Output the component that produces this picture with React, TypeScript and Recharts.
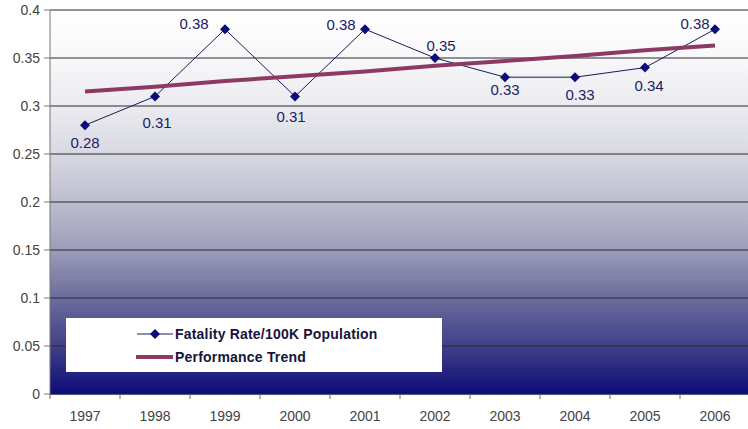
import { LineChart, Line, XAxis, YAxis, CartesianGrid, Legend, LabelList } from "recharts";

const years = ["1997", "1998", "1999", "2000", "2001", "2002", "2003", "2004", "2005", "2006"];
const fatalityRate = [0.28, 0.31, 0.38, 0.31, 0.38, 0.35, 0.33, 0.33, 0.34, 0.38];
const performanceTrend = [0.315, 0.32, 0.326, 0.331, 0.336, 0.342, 0.347, 0.352, 0.358, 0.363];
const yTicks = [0, 0.05, 0.1, 0.15, 0.2, 0.25, 0.3, 0.35, 0.4];

const data = years.map((year, i) => ({
  year,
  rate: fatalityRate[i],
  trend: performanceTrend[i],
}));

// where each value label sits, relative to its marker
const labelOffsets = [
  [0, 17], [2, 26], [-31, -6], [-4, 20], [-24, -5],
  [6, -13], [0, 12], [5, 17], [4, 18], [-20, -6],
];

const NAVY = "#0b0b7a";
const TREND = "#8c3a63";
const FONT = "Arial, 'Liberation Sans', sans-serif";

function Diamond(props: any) {
  const { cx, cy, index } = props;
  if (cx == null || cy == null) return null;
  const r = 5;
  return (
    <path
      key={`dot-${index}`}
      d={`M${cx},${cy - r}L${cx + r},${cy}L${cx},${cy + r}L${cx - r},${cy}Z`}
      fill={NAVY}
    />
  );
}

function ValueLabel(props: any) {
  const { x, y, value, index } = props;
  const [dx, dy] = labelOffsets[index] ?? [0, 15];
  return (
    <text
      x={x + dx}
      y={y + dy}
      textAnchor="middle"
      dominantBaseline="central"
      fill="#1c1c66"
      fontSize={15}
      fontFamily={FONT}
    >
      {Number(value).toFixed(2)}
    </text>
  );
}

function YearTick(props: any) {
  const { x, y, payload, index, width, visibleTicksCount } = props;
  const half = width / visibleTicksCount / 2;
  return (
    <g>
      <line x1={x - half} x2={x - half} y1={y} y2={y + 5} stroke="#666" />
      {index === visibleTicksCount - 1 && (
        <line x1={x + half} x2={x + half} y1={y} y2={y + 5} stroke="#666" />
      )}
      <text x={x} y={y + 27} textAnchor="middle" fill="#444" fontSize={14} fontFamily={FONT}>
        {payload.value}
      </text>
    </g>
  );
}

function LegendBox(props: any) {
  const items = props.payload ?? [];
  return (
    <div style={{ width: 376, height: 54, background: "#fff", position: "relative" }}>
      {items.map((item: any, i: number) => {
        const isTrend = item.dataKey === "trend";
        return (
          <div
            key={item.value}
            style={{ position: "absolute", left: 70, top: 16 + i * 23 - 9, height: 18, display: "flex", alignItems: "center" }}
          >
            <svg width={37} height={18}>
              {isTrend ? (
                <line x1={0} x2={37} y1={9} y2={9} stroke={TREND} strokeWidth={4} />
              ) : (
                <>
                  <line x1={1} x2={37} y1={9} y2={9} stroke="#1a1a5a" strokeWidth={1} />
                  <path d="M19,4L24,9L19,14L14,9Z" fill={NAVY} />
                </>
              )}
            </svg>
            <span
              style={{
                marginLeft: 2,
                fontFamily: FONT,
                fontWeight: "bold",
                fontSize: 14,
                letterSpacing: 0.2,
                color: "#15153a",
                whiteSpace: "nowrap",
              }}
            >
              {item.value}
            </span>
          </div>
        );
      })}
    </div>
  );
}

export default function App() {
  return (
    <div style={{ position: "absolute", left: 0, top: 0, width: 748, height: 429, overflow: "hidden", background: "#fff" }}>
      <svg width={0} height={0} style={{ position: "absolute" }}>
        <defs>
          <linearGradient id="plotBg" x1="0" y1="0" x2="0" y2="1">
            <stop offset="0" stopColor="#ffffff" />
            <stop offset="0.125" stopColor="#f8f8fa" />
            <stop offset="0.25" stopColor="#ebebf0" />
            <stop offset="0.375" stopColor="#d8d8e2" />
            <stop offset="0.5" stopColor="#bdbdcf" />
            <stop offset="0.625" stopColor="#9c9cba" />
            <stop offset="0.75" stopColor="#6c6c9c" />
            <stop offset="0.875" stopColor="#404088" />
            <stop offset="1" stopColor="#0c0c78" />
          </linearGradient>
        </defs>
      </svg>
      <LineChart width={750} height={429} data={data} margin={{ top: 10, right: 0, left: 0, bottom: 0 }}>
        <CartesianGrid vertical={false} stroke="#2a2a2a" fill="url(#plotBg)" fillOpacity={1} />
        <XAxis
          dataKey="year"
          height={35}
          padding={{ left: 35, right: 35 }}
          tickSize={0}
          tickMargin={0}
          tickLine={false}
          axisLine={{ stroke: "#1a1a40" }}
          interval={0}
          tick={<YearTick />}
        />
        <YAxis
          width={50}
          domain={[0, 0.4]}
          ticks={yTicks}
          tickSize={6}
          tickMargin={4}
          axisLine={{ stroke: "#777" }}
          tickLine={{ stroke: "#777" }}
          tick={{ fill: "#444", fontSize: 14, fontFamily: FONT }}
          tickFormatter={(v) => String(v)}
        />
        <Legend
          layout="horizontal"
          align="center"
          verticalAlign="middle"
          content={<LegendBox />}
          wrapperStyle={{ left: 66, top: 318, width: 376, height: 54 }}
        />
        <Line
          name="Fatality Rate/100K Population"
          dataKey="rate"
          stroke="#1a1a5a"
          strokeWidth={1}
          dot={Diamond}
          activeDot={false}
          isAnimationActive={false}
        >
          <LabelList dataKey="rate" content={<ValueLabel />} />
        </Line>
        <Line
          name="Performance Trend"
          dataKey="trend"
          stroke={TREND}
          strokeWidth={4}
          dot={false}
          activeDot={false}
          isAnimationActive={false}
        />
      </LineChart>
    </div>
  );
}
